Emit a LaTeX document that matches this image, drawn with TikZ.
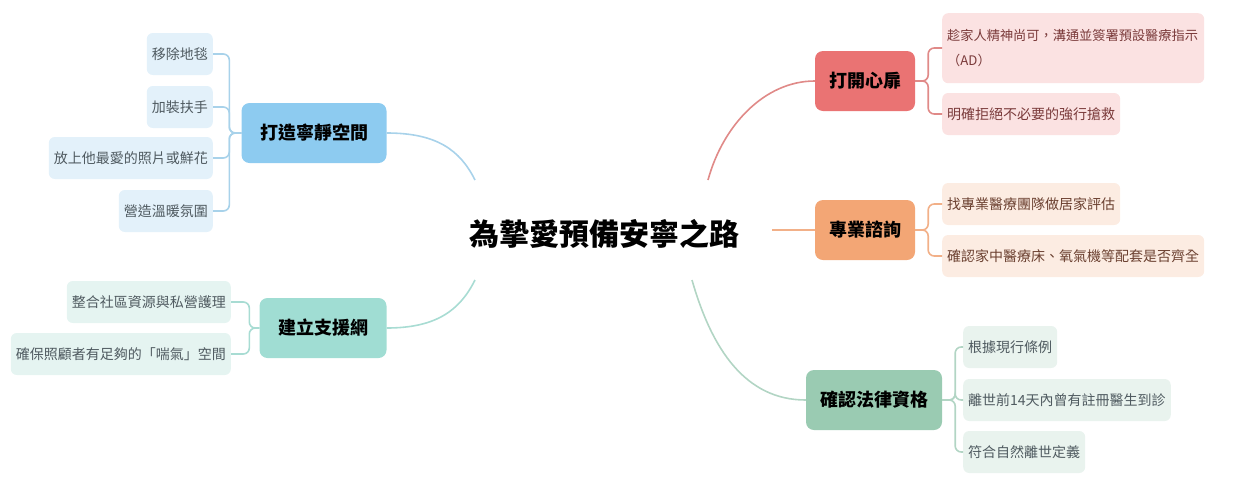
\documentclass[tikz,border=0pt]{standalone}
\usepackage{fontspec}
\setmainfont{Noto Sans CJK TC}
\usetikzlibrary{positioning,calc}

\definecolor{quietfill}{HTML}{8DCBF0}
\definecolor{quietleaf}{HTML}{E3F1FA}
\definecolor{quietline}{HTML}{A8D2EA}
\definecolor{supportfill}{HTML}{A0DDD3}
\definecolor{supportleaf}{HTML}{E5F4F1}
\definecolor{supportline}{HTML}{A8DCD3}
\definecolor{heartfill}{HTML}{EA7373}
\definecolor{heartleaf}{HTML}{FBE2E2}
\definecolor{heartline}{HTML}{E08A88}
\definecolor{hearttext}{HTML}{7A3A3A}
\definecolor{consultfill}{HTML}{F3A675}
\definecolor{consultleaf}{HTML}{FCECE2}
\definecolor{consultline}{HTML}{F2B088}
\definecolor{consulttext}{HTML}{6B4030}
\definecolor{legalfill}{HTML}{9ACBB2}
\definecolor{legalleaf}{HTML}{E9F3EE}
\definecolor{legalline}{HTML}{B2D5C4}
\definecolor{leaftext}{HTML}{4F5A60}

\begin{document}
\begin{tikzpicture}[x=1pt,y=-1pt,
  every node/.style={font=\fontsize{14}{25}\selectfont},
  topic/.style={rounded corners=8pt,minimum height=60pt,inner xsep=14pt,
    font=\fontsize{18}{22}\selectfont\bfseries},
  leaf/.style={rounded corners=6pt,minimum height=42pt,inner xsep=5pt,text=leaftext},
  link/.style={line width=1.6pt}]
  \useasboundingbox (0,0) rectangle (1259,483);

  % centre
  \node (root) at (604,234) {\fontsize{30}{34}\selectfont\bfseries 為摯愛預備安寧之路};
  \coordinate (rootq) at (475,180);
  \coordinate (roots) at (475,280);
  \coordinate (rooth) at (708,180);
  \coordinate (rootc) at (772,230);
  \coordinate (rootl) at (692,280);

  % left branches
  \node[topic,fill=quietfill,minimum width=145pt] (quiet) at (314,133) {打造寧靜空間};
  \node[leaf,fill=quietleaf,anchor=east] (quiet1) at (213,54) {移除地毯};
  \node[leaf,fill=quietleaf,anchor=east] (quiet2) at (213,107) {加裝扶手};
  \node[leaf,fill=quietleaf,anchor=east] (quiet3) at (213,158) {放上他最愛的照片或鮮花};
  \node[leaf,fill=quietleaf,anchor=east] (quiet4) at (213,211) {營造溫暖氛圍};

  \node[topic,fill=supportfill,minimum width=127pt] (support) at (323,328) {建立支援網};
  \node[leaf,fill=supportleaf,anchor=east] (support1) at (231,302) {整合社區資源與私營護理};
  \node[leaf,fill=supportleaf,anchor=east] (support2) at (231,354) {確保照顧者有足夠的「喘氣」空間};

  % right branches
  \node[topic,fill=heartfill,minimum width=100pt] (heart) at (865,81) {打開心扉};
  \node[leaf,fill=heartleaf,text=hearttext,anchor=north west,align=left,minimum height=70pt,
    text width=252pt,font=\fontsize{13.2}{25}\selectfont] (heart1) at (942,13)
    {趁家人精神尚可，溝通並簽署預設醫療指示\\（AD）};
  \node[leaf,fill=heartleaf,text=hearttext,anchor=west] (heart2) at (942,114) {明確拒絕不必要的強行搶救};

  \node[topic,fill=consultfill,minimum width=100pt] (consult) at (865,230) {專業諮詢};
  \node[leaf,fill=consultleaf,text=consulttext,anchor=west] (consult1) at (942,204) {找專業醫療團隊做居家評估};
  \node[leaf,fill=consultleaf,text=consulttext,anchor=west] (consult2) at (942,256) {確認家中醫療床、氧氣機等配套是否齊全};

  \node[topic,fill=legalfill,minimum width=131pt] (legal) at (874,400) {確認法律資格};
  \node[leaf,fill=legalleaf,anchor=west] (legal1) at (963,347) {根據現行條例};
  \node[leaf,fill=legalleaf,anchor=west] (legal2) at (963,400) {離世前14天內曾有註冊醫生到診};
  \node[leaf,fill=legalleaf,anchor=west] (legal3) at (963,452) {符合自然離世定義};

  % main links
  \draw[link,quietline] (quiet.east) .. controls +(50,0) and +(-15,-30) .. (rootq);
  \draw[link,supportline] (support.east) .. controls +(50,0) and +(-15,30) .. (roots);
  \draw[link,heartline] (rooth) .. controls +(15,-55) and +(-50,0) .. (heart.west);
  \draw[link,consultline] (rootc) -- (consult.west);
  \draw[link,legalline] (rootl) .. controls +(20,70) and +(-60,0) .. (legal.west);

  % brackets
  \foreach \c in {quiet1,quiet2,quiet3,quiet4}
    \draw[link,quietline,rounded corners=6pt] (quiet.west) -- ++(-12,0) |- (\c.east);
  \foreach \c in {support1,support2}
    \draw[link,supportline,rounded corners=6pt] (support.west) -- ++(-10,0) |- (\c.east);
  \draw[link,heartline,rounded corners=6pt] (heart.east) -- ++(13,0) |- ($(heart1.north west)+(0,35)$);
  \draw[link,heartline,rounded corners=6pt] (heart.east) -- ++(13,0) |- (heart2.west);
  \foreach \c in {consult1,consult2}
    \draw[link,consultline,rounded corners=6pt] (consult.east) -- ++(13,0) |- (\c.west);
  \foreach \c in {legal1,legal2,legal3}
    \draw[link,legalline,rounded corners=6pt] (legal.east) -- ++(13,0) |- (\c.west);
\end{tikzpicture}
\end{document}
